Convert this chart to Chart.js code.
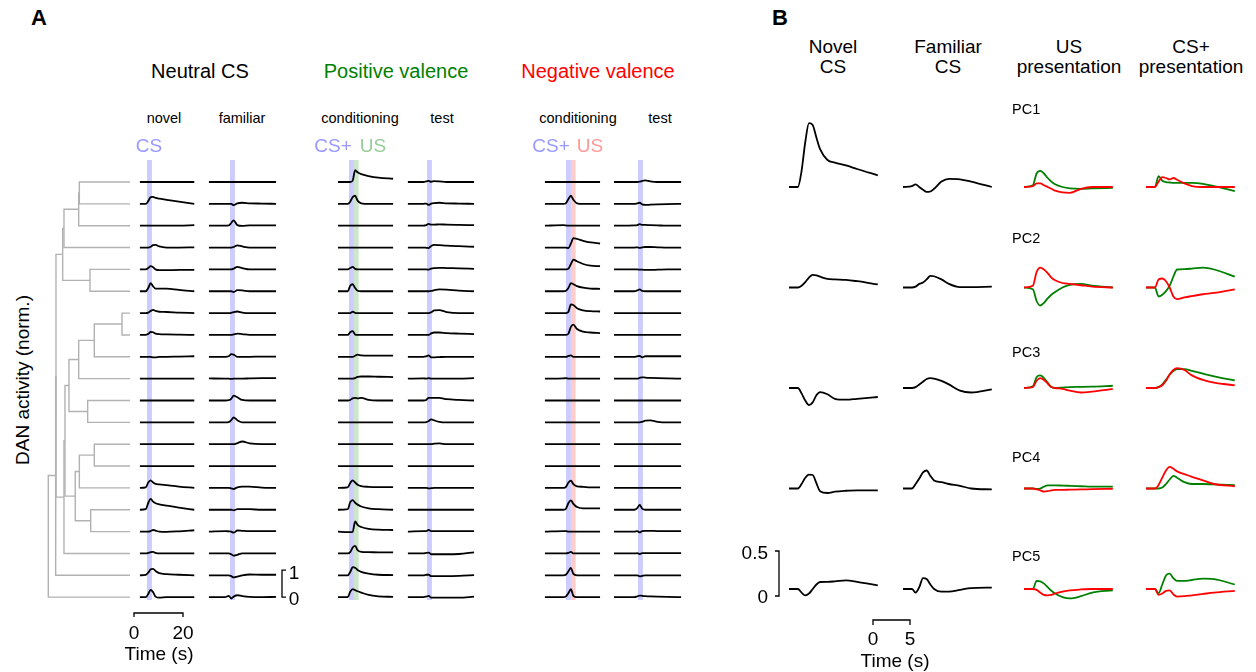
<!DOCTYPE html>
<html>
<head>
<meta charset="utf-8">
<title>DAN activity</title>
<script src="https://cdn.jsdelivr.net/npm/chart.js@4.4.0/dist/chart.umd.min.js"></script>
<style>
body { margin: 0; background: #fff; }
#fig { position: relative; width: 1256px; height: 672px; overflow: hidden; font-family: "Liberation Sans", Arial, Helvetica, sans-serif; color: #000; }
#fig canvas { position: absolute; }
.lbl { position: absolute; white-space: nowrap; line-height: 1; transform: translate(-50%, -50%); }
</style>
</head>
<body>
<div id="fig">
  <canvas id="dendro" width="95" height="480" style="left:40px;top:150px"></canvas>
  <canvas id="tracesA" width="570" height="480" style="left:130px;top:150px"></canvas>
  <canvas id="tracesB" width="516" height="550" style="left:740px;top:90px"></canvas>
</div>
<script>
// ---- panel A: sample times (s, 0 = CS onset) per column
const tNovel    = [-2.9, -0.5, 0.5, 1.5, 2.5, 3.5, 5, 8, 13, 19.3];
const tFamiliar = [-8.6, -2, -0.5, 0.5, 1.5, 3, 5, 8, 13, 18.8];
const tPosCond  = [-4.5, -0.5, 0.5, 1.5, 2.5, 3.5, 5, 8, 12, 18];
const tPosTest  = [-7.8, -1.5, -0.3, 0.7, 1.7, 3, 5, 8, 13, 19.2];
const tNegCond  = [-8.6, -1, 0, 1, 2, 3, 4.5, 7, 10, 13.9];
const tNegTest  = [-9.8, -1.5, -0.3, 0.7, 1.7, 3, 5, 8, 12, 17.6];

// ---- panel A: DAN activity (norm.), one row per neuron
const novel = [
  [0,0,0,0,0,0,0,0,0,0],
  [0,0,0.1,0.25,0.26,0.22,0.19,0.15,0.08,0],
  [0,0,0,0,0,0,0,0,0,0.02],
  [0,0,0,0.03,0.09,0.1,0.04,0,0,0.01],
  [0,0,0.05,0.12,0.08,0,-0.03,-0.03,-0.02,-0.02],
  [0,0,0.12,0.3,0.18,0.1,0.1,0.1,0.05,0],
  [0,0,0.02,0.08,0.12,0.08,0.05,0.04,0.02,0],
  [0,0,0.04,0.11,0.1,0.05,0.03,0.02,0.01,0],
  [0,0,0,0,-0.02,-0.02,0,0,0.01,0.02],
  [0,0,0,0,0,0,0,0,0,0],
  [0,0,0,0,0,0,0,0,0,0],
  [0,0,0,0,0,0,0,0,0,0],
  [0,0,0,0,0,0,0,0,0,0],
  [0,0,0,0,0,0,0,0,0,0],
  [0,0.02,0.2,0.28,0.2,0.15,0.13,0.1,0.05,0],
  [0,0.02,0.25,0.4,0.3,0.24,0.2,0.15,0.08,0],
  [0,0,0,0.02,0.06,0.04,0,-0.01,0.01,0.05],
  [0,0,0.02,0.05,0.06,0.02,0,0,0,0],
  [0,0.02,0.1,0.22,0.24,0.16,0.08,0.04,0.02,0],
  [0,0,0.12,0.27,0.18,0.02,-0.02,0,0,0]
];
const familiar = [
  [0,0,0,0,0,0,0,0,0,0],
  [0,0,0,0,-0.05,0.02,0.04,0.02,0.01,0],
  [0,0,0.01,0.1,0.2,0.02,-0.01,0.01,0.01,0.01],
  [0,0,0,0,0.02,0.08,0.04,0,0,0],
  [0,0,0,0,0.03,0.09,0.05,0,0,0],
  [0,0,0,0,-0.03,0.04,0.03,0,0,0],
  [0,0,0,0.01,0.04,0.06,0.02,0,0,0],
  [0,0,0,0,0.02,0.05,0.03,0,0,0],
  [0,0,0.02,0.1,0.08,0,0,0,0.01,0.01],
  [0.01,0,0,-0.01,0,0,0,0.01,0.02,0.02],
  [0,0,0.01,0.06,0.18,0.12,0.02,0,0,0],
  [0,0,0.01,0.08,0.18,0.08,0,0,0,0],
  [0,0,0,0,0,0.04,0.1,0.03,0,0],
  [0,0,0,0,0,0,0,0,0,0],
  [0,0,0,-0.02,-0.04,0.02,0.05,0.05,0.01,0],
  [0,0,0,0,-0.02,0.02,0.02,0.02,0,0],
  [0,0.02,0.01,0,-0.04,0.04,0.03,0.02,0.02,0.02],
  [0,0,0,-0.03,-0.08,-0.05,0,0,0,0],
  [0,0,0,-0.03,-0.08,-0.05,0,0.03,0.02,0.02],
  [0,0,0.05,-0.05,0.02,0.07,0.04,0.01,0,0.01]
];
const posCond = [
  [0,0,0,0.05,0.44,0.36,0.29,0.22,0.16,0.12],
  [0,0,0.08,0.25,0.3,0.12,0.02,0,0,0],
  [0,0,0,0,0,0,0,0,0,0],
  [0,0,0,0,0,0,0,0,0,0],
  [0,0,0.05,0.09,0.02,0,0,0,0,0],
  [0,0,0.2,0.26,0.12,0.02,0,0,0,0],
  [0,0,0,0.05,0.01,0,0,0,0,0],
  [0,0,0.1,0.14,0.02,0,0,0,0,0],
  [0,0,0,0,0.04,0.08,0.05,0.04,0.04,0.04],
  [0,0,0,0,0.02,0.07,0.08,0.08,0.07,0.06],
  [0,0,0.02,0.08,0.1,0.08,0.1,0.02,0,0],
  [0,0,0,0,0,0,0,0,0,0],
  [0,0,0,0,0,0,0,0,0,0],
  [0,0,0,0,0,0,0,0,0,0],
  [0,0.02,0.18,0.28,0.2,0.12,0.07,0.04,0.03,0.03],
  [0,0.02,0.28,0.36,0.26,0.19,0.12,0.05,0.02,0],
  [0,-0.02,-0.02,-0.01,0.38,0.25,0.17,0.1,0.07,0.06],
  [0,0,0.05,0.22,0.28,0.12,0.06,0.05,0.04,0.04],
  [0,0,0.12,0.3,0.28,0.2,0.13,0.06,0.02,0.01],
  [0,0,0.2,0.3,0.26,0.22,0.17,0.08,0.03,0.01]
];
const posTest = [
  [0,0,0.02,0.04,0.01,0.03,0.02,0,0,0],
  [0,0,0.01,-0.04,0.01,0.03,0.04,0.02,0.01,0],
  [0,0,0.02,0.07,0.04,0.04,0.05,0.04,0.03,0.02],
  [0,0,-0.01,-0.02,0.06,0.1,0.09,0.07,0.05,0.03],
  [0,0,0,-0.01,0.03,0.05,0.06,0.05,0.04,0.02],
  [0,0,0,0,0.01,0.04,0.07,0.06,0.02,0],
  [0,0,0,0,0.03,0.1,0.11,0.04,0,0],
  [0,0,0,0,0.06,0.09,0.09,0.07,0.05,0.03],
  [0,0,0.02,0.05,-0.02,-0.02,-0.01,0,0,0],
  [0,0.01,0,0.02,0,0,0,0,0,0.02],
  [0,0,0.02,0.1,0.1,0.1,0.1,0.05,0.02,0],
  [0,0,0.01,0.05,0.11,0.07,0.02,0,0,0],
  [0,0,0,0,0,0.02,0.03,0,0,0],
  [0,0,0,0,0,0,0,0,0,0],
  [0,0,0,-0.02,-0.01,0,0,0,0,0],
  [0,0,0,0,0,0,0,0,0,0],
  [0,0.02,0.02,0.06,0.02,0.02,0.02,0.02,0.02,0.02],
  [0,0,0.02,0.03,-0.03,-0.03,-0.03,-0.03,-0.02,0.04],
  [0,0,0.02,0.02,-0.03,-0.03,-0.03,-0.03,-0.02,0.01],
  [0,0,0.02,0.05,-0.02,-0.02,-0.02,-0.02,-0.02,0.02]
];
const negCond = [
  [0,0,0,0,0,0,0,0,0,0],
  [0,0,0.03,0.18,0.3,0.15,0.02,0,0,0],
  [0,0.02,0.01,0,0,0,0,0,0,0],
  [0,0,0,-0.02,0.15,0.35,0.32,0.25,0.19,0.15],
  [0,0,0,0.03,0.2,0.36,0.3,0.2,0.14,0.12],
  [0,0,0.02,0.12,0.3,0.26,0.19,0.13,0.1,0.09],
  [0,0,0,0.05,0.32,0.3,0.18,0.1,0.07,0.06],
  [0,0,0,0.05,0.3,0.38,0.22,0.12,0.09,0.07],
  [0,0,0,0.03,0.05,0,0,0,0,0],
  [0,0.01,0.02,0,0,0,0,0,0,0],
  [0,0,0,0,0,0,0,0,0,0],
  [0,0,0,0,0,0,0,0,0,0],
  [0,0,0,0,0,0,0,0,0,0],
  [0,0,0,0,0,0,0,0,0,0],
  [0,0,0.04,0.2,0.27,0.14,0.06,0.04,0.02,0.02],
  [0,0,0.04,0.25,0.35,0.22,0.1,0.05,0.05,0.05],
  [0,0.02,0.02,0,0,0,0,0,0,0],
  [0,0,0,0.02,0.06,0,0,0,0,0],
  [0,0,0.03,0.15,0.27,0.05,0,0,0,0],
  [0,0,0.03,0.15,0.3,0.05,0,0,0,0]
];
const negTest = [
  [0,0,0,0.01,0.04,0.06,0.02,0,0,0],
  [0,0,0.02,0.04,-0.02,-0.04,-0.03,-0.02,-0.01,0],
  [0,0.01,0.02,0.06,0.03,0.03,0.02,0.01,0,0],
  [0,0,0.01,-0.01,0.01,0.02,0.02,0.01,0,0],
  [0,0,0,-0.01,-0.01,-0.02,-0.02,-0.01,0,0],
  [0,0,0.03,0.07,0.01,0,0,0,0,0],
  [0,0,0,0,0,0,0,0,0,0],
  [0,0,0,0,0,0,0,0,0,0],
  [0,0,0.02,0.03,-0.02,0.02,0.02,0.02,0.02,0.02],
  [0,0,0,0.03,0.05,0.04,0.03,0.02,0.01,0],
  [0,0,0,0,0,0,0,0,0,0],
  [0,0,0,0,0.02,0.06,0.07,0.02,0,0],
  [0,0,0,0,0,0,0,0,0,0],
  [0,0,0,0,0,0,0,0,0,0],
  [0,0,0,0,0,0,0,0,0,0],
  [0,0,0.06,0.18,0.04,0,0,0,0,0],
  [0,0,0.02,-0.03,0.02,0.03,0.03,0.02,0.02,0.02],
  [0,0,0.01,-0.02,0.01,0.01,0.01,0.01,0.01,0.01],
  [0,0,0,-0.04,-0.02,0,0,0,0,0],
  [0,0,0.03,0.06,0.05,0.04,0.03,0.02,0.01,0]
];

// hierarchical clustering of the 20 rows: [child a, child b, distance]  (new cluster ids start at 20)
const linkage = [
  [0, 1, 0.62], [20, 2, 0.628], [21, 3, 0.808], [4, 5, 0.49], [22, 23, 0.824],
  [6, 7, 0.098], [25, 8, 0.437], [26, 9, 0.628], [10, 11, 0.518], [27, 28, 0.747],
  [12, 13, 0.437], [30, 14, 0.62], [15, 16, 0.481], [31, 32, 0.67], [29, 33, 0.796],
  [34, 17, 0.808], [24, 35, 0.906], [36, 18, 0.91], [37, 19, 1.0]
];

// ---- panel B: principal components
const tPC = [-1.2, 0, 0.5, 1, 1.5, 2, 2.5, 3, 4, 5, 6.5, 8, 10.8];
const pcNovel = [
  [0,0,0.18,0.5,0.71,0.69,0.55,0.42,0.3,0.27,0.24,0.2,0.13],
  [0,0,0.02,0.06,0.11,0.14,0.135,0.12,0.095,0.09,0.085,0.07,0.035],
  [0,0,-0.06,-0.14,-0.19,-0.16,-0.08,-0.045,-0.07,-0.12,-0.13,-0.12,-0.1],
  [0,0,0.05,0.12,0.155,0.15,0.06,-0.03,-0.05,-0.035,-0.025,-0.02,-0.02],
  [0,0,-0.04,-0.07,-0.05,0,0.05,0.078,0.08,0.085,0.095,0.08,0.04]
];
const pcFamiliar = [
  [0,0.01,0.03,0,-0.03,-0.055,-0.05,-0.02,0.06,0.09,0.085,0.06,0],
  [0,0,0.01,0.04,0.055,0.09,0.13,0.125,0.09,0.04,0.005,0.005,0.01],
  [0,0,0.01,0.04,0.07,0.1,0.11,0.105,0.08,0.04,-0.03,-0.05,-0.015],
  [0,0,0.05,0.11,0.18,0.2,0.14,0.09,0.07,0.05,0.03,0,-0.01],
  [0,0,-0.04,0.02,0.12,0.11,0.05,0,-0.03,-0.03,-0.01,0.01,0.015]
];
const pcUSGreen = [
  [0,0.02,0.15,0.18,0.15,0.1,0.06,0.03,0,-0.015,-0.02,-0.015,-0.01],
  [0,-0.02,-0.15,-0.2,-0.17,-0.12,-0.08,-0.05,0,0.03,0.04,0.02,0],
  [0,0.02,0.12,0.14,0.11,0.06,0.01,0,0.005,0.01,0.012,0.015,0.025],
  [0,0,-0.005,0,0.02,0.035,0.035,0.035,0.033,0.03,0.025,0.02,0.02],
  [0,0,0.09,0.085,0.06,0.02,-0.02,-0.05,-0.09,-0.105,-0.08,-0.04,-0.015]
];
const pcUSRed = [
  [0,0.01,0.04,0.04,0.02,0,-0.02,-0.04,-0.06,-0.065,-0.02,0,0],
  [0,0.02,0.17,0.22,0.2,0.16,0.11,0.08,0.05,0.04,0.025,0.01,0],
  [0,0.01,0.08,0.11,0.09,0.05,0.01,0,-0.01,-0.03,-0.05,-0.04,-0.01],
  [0,0,-0.01,-0.02,-0.035,-0.03,-0.02,-0.015,-0.015,-0.013,-0.01,-0.008,-0.003],
  [0,0,-0.01,-0.04,-0.065,-0.07,-0.065,-0.05,-0.03,-0.015,-0.005,0,0]
];
const pcCSGreen = [
  [0,0,0.12,0.07,0.055,0.05,0.045,0.045,0.045,0.045,0.035,0.01,-0.045],
  [0,0,-0.1,-0.08,-0.04,0.02,0.12,0.2,0.205,0.21,0.22,0.2,0.12],
  [0,0,0.01,0.04,0.09,0.15,0.19,0.21,0.21,0.19,0.16,0.13,0.085],
  [0,0,0,0.01,0.05,0.1,0.14,0.12,0.07,0.05,0.05,0.045,0.037],
  [0,0,-0.045,0.05,0.15,0.17,0.12,0.09,0.09,0.1,0.115,0.11,0.05]
];
const pcCSRed = [
  [0,0,0.06,0.11,0.1,0.085,0.1,0.08,0.04,0.01,0,0,0],
  [0,0,0.09,0.1,0.07,0,-0.1,-0.13,-0.11,-0.095,-0.075,-0.06,-0.02],
  [0,0,0.01,0.03,0.08,0.15,0.2,0.22,0.2,0.14,0.09,0.06,0.03],
  [0,0,0.04,0.12,0.2,0.24,0.22,0.19,0.16,0.13,0.09,0.05,0.025],
  [0,0,-0.065,-0.05,-0.02,-0.015,-0.06,-0.085,-0.08,-0.07,-0.055,-0.04,-0.02]
];

// ---- text
const groupTitles = ['Neutral CS', 'Positive valence', 'Negative valence'];
const columnLabels = ['novel', 'familiar', 'conditioning', 'test', 'conditioning', 'test'];
const headersB = [['Novel', 'CS'], ['Familiar', 'CS'], ['US', 'presentation'], ['CS+', 'presentation']];
const pcLabels = ['PC1', 'PC2', 'PC3', 'PC4', 'PC5'];

// ---- colours
const GREEN = 'rgb(0,128,0)', RED = 'rgb(255,0,0)';
const CS_BAND = 'rgb(204,204,255)', US_POS_BAND = 'rgb(204,230,204)', US_NEG_BAND = 'rgb(255,204,204)';
const CS_TEXT = 'rgb(153,153,255)', US_POS_TEXT = 'rgb(153,204,153)', US_NEG_TEXT = 'rgb(255,153,153)';
const GRAY = 'rgb(178,178,178)';

// ---- layout (pixels of the page)
const A = { left: 130, top: 150, w: 570, h: 480, pxSec: 2.45, pxUnit: 27, row0: 182, rowPx: 21.85 };
const B = { left: 740, top: 90, w: 516, h: 550, pxSec: 7.4, pxUnit: 90, row0: 187, rowPx: 100.5 };
const gapA = A.rowPx / A.pxUnit;
const gapB = B.rowPx / B.pxUnit;
const yMaxA = (A.row0 - A.top) / A.pxUnit, yMinA = yMaxA - A.h / A.pxUnit;
const yMaxB = (B.row0 - B.top) / B.pxUnit, yMinB = yMaxB - B.h / B.pxUnit;
function yA(px) { return yMaxA - (px - A.top) / A.pxUnit; }
function xA(px) { return (px - A.left) / A.pxSec; }
function yB(px) { return yMaxB - (px - B.top) / B.pxUnit; }
function xB(px) { return (px - B.left) / B.pxSec; }

function trace(points, color, order) {
  return { data: points, borderColor: color, borderWidth: 1.8, fill: false, pointRadius: 0,
           cubicInterpolationMode: 'monotone', clip: false, order: order || 1 };
}
function segs(points, color, width) {
  return { data: points, borderColor: color, borderWidth: width, fill: false, pointRadius: 0,
           tension: 0, clip: false, order: 1 };
}
function band(x0, x1, top, bot, color) {
  return { data: [{ x: x0, y: top }, { x: x1, y: top }], borderWidth: 0, pointRadius: 0,
           backgroundColor: color, fill: { value: bot }, clip: false, order: 10 };
}
function makeChart(id, datasets, xr, yr, xReverse) {
  return new Chart(document.getElementById(id), {
    type: 'line',
    data: { datasets: datasets },
    options: {
      responsive: false, animation: false, devicePixelRatio: 1, events: [],
      layout: { padding: 0 },
      plugins: { legend: { display: false }, tooltip: { enabled: false } },
      scales: {
        x: { type: 'linear', display: false, min: xr[0], max: xr[1], reverse: !!xReverse },
        y: { type: 'linear', display: false, min: yr[0], max: yr[1] }
      }
    }
  });
}

// ---- panel A traces
const colsA = [
  { t: tNovel, v: novel, onset: 147, bands: [[0, 2, CS_BAND]] },
  { t: tFamiliar, v: familiar, onset: 230, bands: [[0, 2, CS_BAND]] },
  { t: tPosCond, v: posCond, onset: 349, bands: [[0, 2, CS_BAND], [2, 4, US_POS_BAND]] },
  { t: tPosTest, v: posTest, onset: 427, bands: [[0, 2, CS_BAND]] },
  { t: tNegCond, v: negCond, onset: 566, bands: [[0, 2, CS_BAND], [2, 4, US_NEG_BAND]] },
  { t: tNegTest, v: negTest, onset: 638, bands: [[0, 2, CS_BAND]] }
];
const dsA = [];
colsA.forEach(function (c) {
  const x0 = xA(c.onset);
  c.bands.forEach(function (b) { dsA.push(band(x0 + b[0], x0 + b[1], yA(160), yA(600), b[2])); });
  c.v.forEach(function (row, i) {
    dsA.push(trace(c.t.map(function (t, j) { return { x: x0 + t, y: row[j] - i * gapA }; }), '#000'));
  });
});
// scale bars: 20 s and 1 unit
const nRows = novel.length;
const tb0 = xA(134), tbY = yA(613), tick = 4 / A.pxUnit;
dsA.push(segs([{ x: tb0, y: tbY - tick }, { x: tb0, y: tbY }, { x: tb0 + 20, y: tbY }, { x: tb0 + 20, y: tbY - tick }], '#000', 1.3));
const vb0 = xA(282), base = -(nRows - 1) * gapA, tickS = 4 / A.pxSec;
dsA.push(segs([{ x: vb0 + tickS, y: base + 1 }, { x: vb0, y: base + 1 }, { x: vb0, y: base }, { x: vb0 + tickS, y: base }], '#000', 1.3));
makeChart('tracesA', dsA, [0, A.w / A.pxSec], [yMinA, yMaxA]);

// ---- dendrogram
const pxDist = 130 - 48.3;
const nodeH = [], nodeY = [];
for (let i = 0; i < nRows; i++) { nodeH[i] = 0; nodeY[i] = -i * gapA; }
const dsD = [];
linkage.forEach(function (m, k) {
  const a = m[0], b = m[1], h = m[2];
  dsD.push(segs([{ x: nodeH[a], y: nodeY[a] }, { x: h, y: nodeY[a] }, { x: h, y: nodeY[b] }, { x: nodeH[b], y: nodeY[b] }], GRAY, 1.4));
  nodeH[nRows + k] = h;
  nodeY[nRows + k] = (nodeY[a] + nodeY[b]) / 2;
});
makeChart('dendro', dsD, [-(135 - 130) / pxDist, (130 - 40) / pxDist], [yMinA, yMaxA], true);

// ---- panel B traces
const startsB = [789, 903, 1024, 1146];
const dsB = [];
function pcLine(col, row, vals, color, order) {
  const x0 = xB(startsB[col]);
  return trace(tPC.map(function (t, j) { return { x: x0 + t - tPC[0], y: vals[j] - row * gapB }; }), color, order);
}
for (let r = 0; r < pcLabels.length; r++) {
  dsB.push(pcLine(0, r, pcNovel[r], '#000', 1));
  dsB.push(pcLine(1, r, pcFamiliar[r], '#000', 1));
  dsB.push(pcLine(2, r, pcUSRed[r], RED, 1));
  dsB.push(pcLine(2, r, pcUSGreen[r], GREEN, 2));
  dsB.push(pcLine(3, r, pcCSRed[r], RED, 1));
  dsB.push(pcLine(3, r, pcCSGreen[r], GREEN, 2));
}
// scale bars: 0.5 unit and 5 s
const bx = xB(779), by0 = yB(596), tickB = 4 / B.pxSec;
dsB.push(segs([{ x: bx - tickB, y: by0 + 0.5 }, { x: bx, y: by0 + 0.5 }, { x: bx, y: by0 }, { x: bx - tickB, y: by0 }], '#000', 1.3));
const tx = xB(873), ty = yB(620), tickT = 5 / B.pxUnit;
dsB.push(segs([{ x: tx, y: ty - tickT }, { x: tx, y: ty }, { x: tx + 5, y: ty }, { x: tx + 5, y: ty - tickT }], '#000', 1.3));
makeChart('tracesB', dsB, [0, B.w / B.pxSec], [yMinB, yMaxB]);

// ---- labels
const fig = document.getElementById('fig');
function label(text, x, y, size, opts) {
  opts = opts || {};
  const d = document.createElement('div');
  d.className = 'lbl';
  d.textContent = text;
  d.style.left = x + 'px';
  d.style.top = y + 'px';
  d.style.fontSize = size + 'px';
  if (opts.color) d.style.color = opts.color;
  if (opts.bold) d.style.fontWeight = 'bold';
  if (opts.align === 'left') d.style.transform = 'translate(0,-50%)';
  if (opts.align === 'right') d.style.transform = 'translate(-100%,-50%)';
  if (opts.rotate) d.style.transform = 'translate(-50%,-50%) rotate(-90deg)';
  fig.appendChild(d);
}
label('A', 39, 18, 22, { bold: true });
label('B', 780, 18, 22, { bold: true });
label(groupTitles[0], 200, 71, 20);
label(groupTitles[1], 396, 71, 20, { color: GREEN });
label(groupTitles[2], 598, 71, 20, { color: RED });
[164, 242, 360, 442, 578, 660].forEach(function (x, i) { label(columnLabels[i], x, 118, 14.5); });
label('CS', 149, 145, 19, { color: CS_TEXT });
label('CS+', 333, 145, 19, { color: CS_TEXT });
label('US', 373, 145, 19, { color: US_POS_TEXT });
label('CS+', 551, 145, 19, { color: CS_TEXT });
label('US', 590, 145, 19, { color: US_NEG_TEXT });
label('DAN activity (norm.)', 22, 380, 19, { rotate: true });
label('0', 134, 632, 19);
label('20', 183, 632, 19);
label('Time (s)', 159, 653, 19);
label('1', 294, 572, 19);
label('0', 294, 598, 19);

[833, 948, 1069, 1191].forEach(function (x, i) {
  label(headersB[i][0], x, 46, 19);
  label(headersB[i][1], x, 66, 19);
});
[109, 238, 352, 457, 556].forEach(function (y, i) { label(pcLabels[i], 1012, y, 14.5, { align: 'left' }); });
label('0.5', 768, 552, 19, { align: 'right' });
label('0', 768, 596, 19, { align: 'right' });
label('0', 873, 638, 19);
label('5', 910, 638, 19);
label('Time (s)', 895, 660, 19);
</script>
</body>
</html>
